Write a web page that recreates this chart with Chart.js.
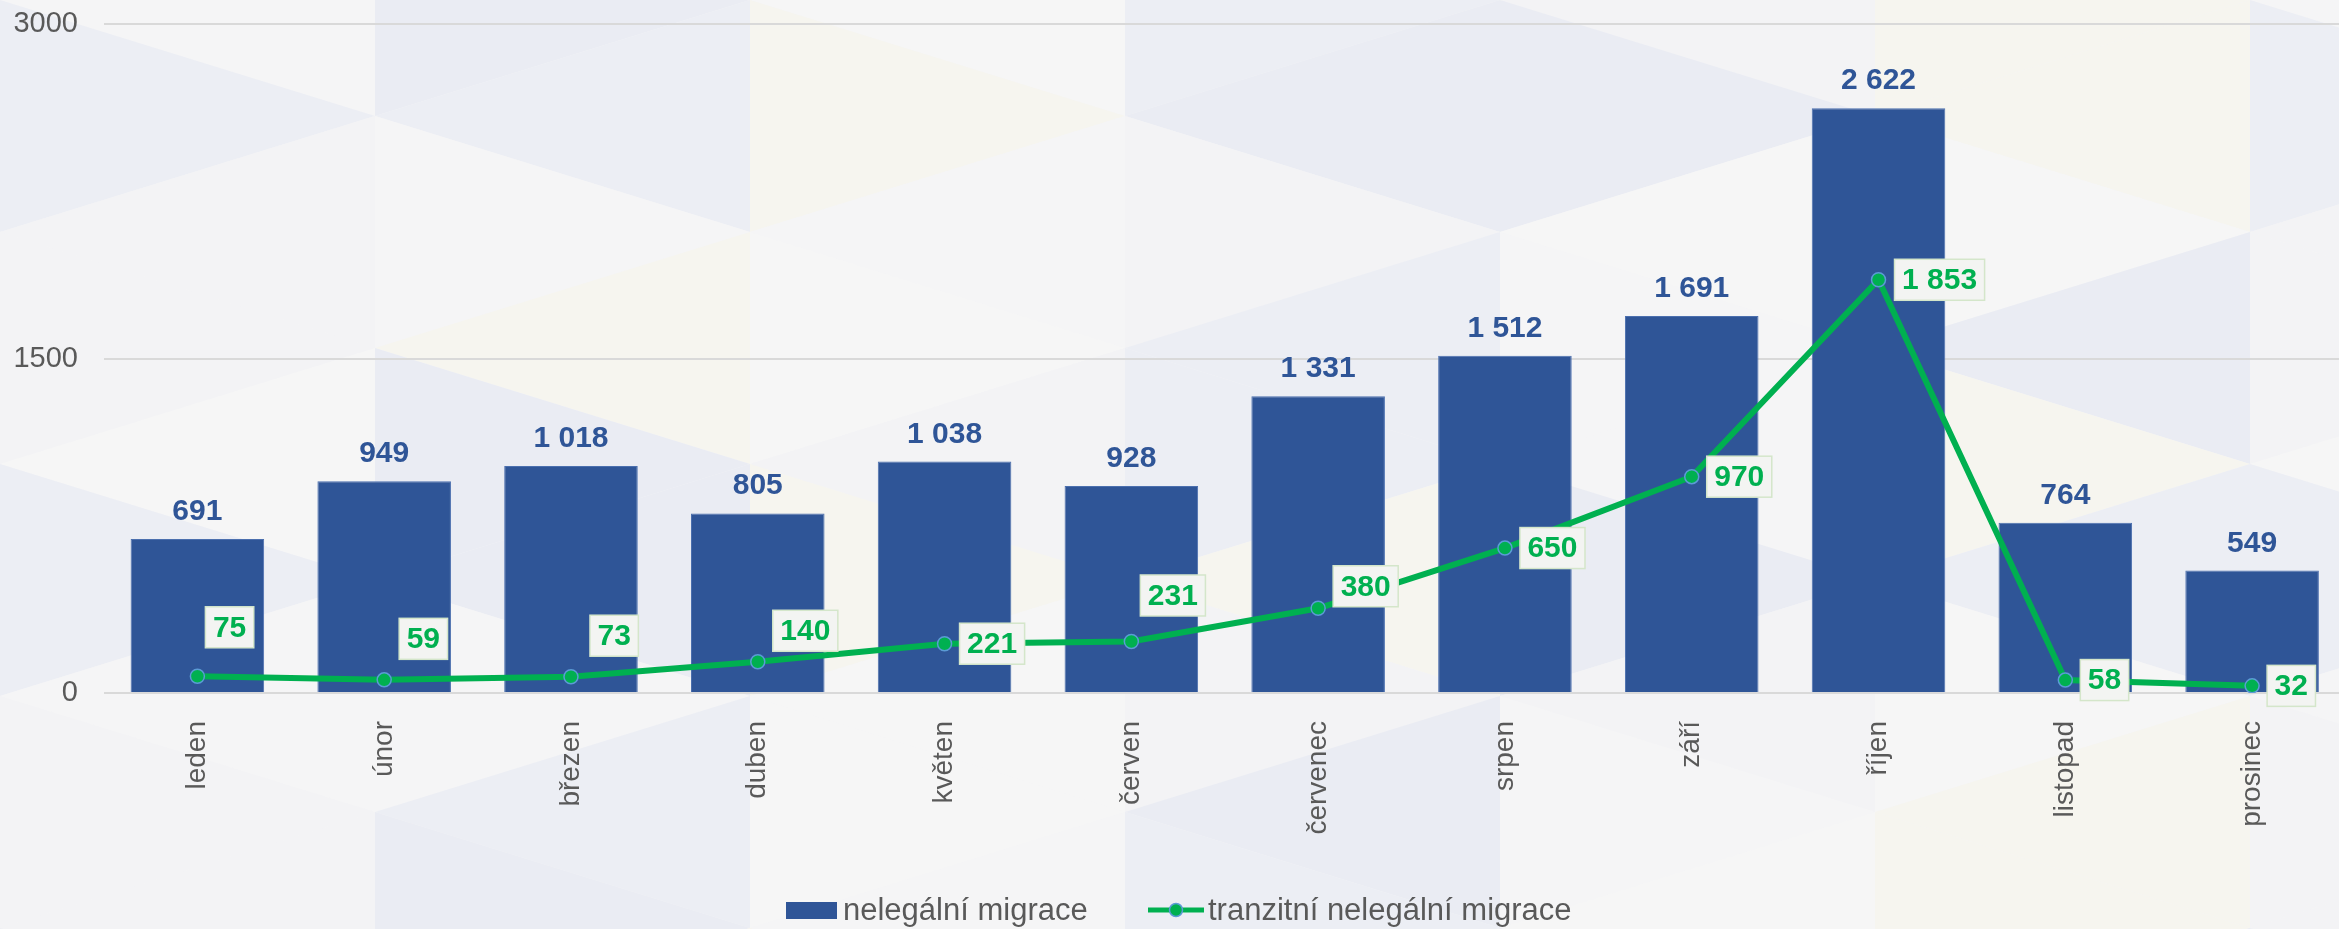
<!DOCTYPE html>
<html>
<head>
<meta charset="utf-8">
<script src="https://cdn.jsdelivr.net/npm/chart.js@4.4.0/dist/chart.umd.min.js"></script>
<style>
  html, body { margin: 0; padding: 0; overflow: hidden; background: #f4f4f6; }
  #wrap { width: 2354px; height: 929px; }
</style>
</head>
<body>
<div id="wrap"><canvas id="chart" width="2354" height="929"></canvas></div>
<script>
// Data
var months = ["leden", "únor", "březen", "duben", "květen", "červen", "červenec", "srpen", "září", "říjen", "listopad", "prosinec"];
var nelegalni = [691, 949, 1018, 805, 1038, 928, 1331, 1512, 1691, 2622, 764, 549];
var tranzitni = [75, 59, 73, 140, 221, 231, 380, 650, 970, 1853, 58, 32];
var yTicks = [0, 1500, 3000];
var seriesNames = ["nelegální migrace", "tranzitní nelegální migrace"];

// posun popisku u bodu cary (od bodu)
var labelNudgeX = [8, 15, 19, 15, 15, 9, 15, 15, 15, 16, 15, 15];
var labelNudgeY = [-49, -41, -41, -31, 0, -46, -22, 0, 0, 0, 0, 0];

var BLUE = "#2F5597";
var GREEN = "#00B050";
var GRAY = "#595959";

function fmt(n) {
  return String(n).replace(/\B(?=(\d{3})+(?!\d))/g, " ");
}

// pozadi s trojuhelniky
var background = {
  id: "background",
  beforeDraw: function (chart) {
    var ctx = chart.ctx;
    var colors = ["#eceef4", "#f5f5f6", "#f6f5ef", "#f3f3f5", "#eaecf3", "#f6f6f6"];
    ctx.save();
    ctx.fillStyle = "#f4f4f6";
    ctx.fillRect(0, 0, chart.width, chart.height);
    var cw = 375, rh = 232;
    for (var c = -1; c < 8; c++) {
      for (var r = -1; r < 6; r++) {
        var x0 = c * cw, x1 = (c + 1) * cw;
        var s = (c % 2 === 0) ? 0 : rh / 2;
        var yA = r * rh + s;
        ctx.fillStyle = colors[Math.abs(c * 7 + r * 3) % colors.length];
        ctx.beginPath();
        ctx.moveTo(x0, yA);
        ctx.lineTo(x1, yA + rh / 2);
        ctx.lineTo(x0, yA + rh);
        ctx.closePath();
        ctx.fill();
        ctx.fillStyle = colors[Math.abs(c * 5 + r * 2 + 3) % colors.length];
        ctx.beginPath();
        ctx.moveTo(x1, yA + rh / 2);
        ctx.lineTo(x0, yA + rh);
        ctx.lineTo(x1, yA + rh * 1.5);
        ctx.closePath();
        ctx.fill();
      }
    }
    ctx.restore();
  }
};

// popisky hodnot
var valueLabels = {
  id: "valueLabels",
  afterDatasetsDraw: function (chart) {
    var ctx = chart.ctx;
    ctx.save();
    ctx.font = "bold 30px 'Liberation Sans', Arial, sans-serif";
    ctx.fillStyle = BLUE;
    ctx.textAlign = "center";
    ctx.textBaseline = "alphabetic";
    chart.getDatasetMeta(0).data.forEach(function (bar, i) {
      ctx.fillText(fmt(nelegalni[i]), bar.x, bar.y - 19);
    });

    chart.getDatasetMeta(1).data.forEach(function (p, i) {
      var txt = fmt(tranzitni[i]);
      var w = ctx.measureText(txt).width + 15;
      var h = 41;
      var x = p.x + labelNudgeX[i];
      var y = p.y + labelNudgeY[i] - h / 2;
      ctx.fillStyle = "#f3f4f2";
      ctx.fillRect(x, y, w, h);
      ctx.strokeStyle = "#d4e6ca";
      ctx.lineWidth = 1.5;
      ctx.strokeRect(x, y, w, h);
      ctx.fillStyle = GREEN;
      ctx.textAlign = "center";
      ctx.textBaseline = "middle";
      ctx.fillText(txt, x + w / 2, y + h / 2 + 1);
    });
    ctx.restore();
  }
};

// legenda dole
var bottomLegend = {
  id: "bottomLegend",
  afterDraw: function (chart) {
    var ctx = chart.ctx;
    var ds = chart.data.datasets;
    var y = 910;
    ctx.save();
    ctx.font = "31px 'Liberation Sans', Arial, sans-serif";
    ctx.textBaseline = "middle";
    ctx.textAlign = "left";

    var x = 786;
    ctx.fillStyle = ds[0].backgroundColor;
    ctx.fillRect(x, y - 8, 51, 17);
    ctx.fillStyle = GRAY;
    ctx.fillText(seriesNames[0], x + 57, y + 1);

    x = 1148;
    ctx.strokeStyle = ds[1].borderColor;
    ctx.lineWidth = 5;
    ctx.beginPath();
    ctx.moveTo(x, y);
    ctx.lineTo(x + 56, y);
    ctx.stroke();
    ctx.beginPath();
    ctx.arc(x + 28, y, 6.5, 0, Math.PI * 2);
    ctx.fillStyle = GREEN;
    ctx.fill();
    ctx.lineWidth = 1.5;
    ctx.strokeStyle = "#5B9BD5";
    ctx.stroke();
    ctx.fillStyle = GRAY;
    ctx.fillText(seriesNames[1], x + 60, y + 1);
    ctx.restore();
  }
};

const ctxChart = document.getElementById("chart").getContext("2d");
var chart = new Chart(ctxChart, {
  data: {
    labels: months,
    datasets: [
      {
        type: "bar",
        label: seriesNames[0],
        data: nelegalni,
        backgroundColor: BLUE,
        borderColor: "#4b6fae",
        borderWidth: 1,
        categoryPercentage: 1,
        barPercentage: 0.715,
        order: 1
      },
      {
        type: "line",
        label: seriesNames[1],
        data: tranzitni,
        borderColor: GREEN,
        borderWidth: 6,
        tension: 0,
        pointRadius: 7,
        pointBackgroundColor: GREEN,
        pointBorderColor: "#5B9BD5",
        pointBorderWidth: 1.5,
        order: 0
      }
    ]
  },
  options: {
    responsive: false,
    animation: false,
    layout: { padding: { top: 24, left: 0, right: 0, bottom: 0 } },
    plugins: {
      legend: { display: false },
      tooltip: { enabled: false }
    },
    scales: {
      x: {
        grid: { display: false },
        border: { display: false },
        ticks: {
          autoSkip: false,
          minRotation: 90,
          maxRotation: 90,
          padding: 20,
          color: GRAY,
          font: { family: "'Liberation Sans', Arial, sans-serif", size: 28 }
        },
        afterFit: function (scale) { scale.height = 236; }
      },
      y: {
        min: 0,
        max: 3000,
        afterBuildTicks: function (scale) {
          scale.ticks = yTicks.map(function (v) { return { value: v }; });
        },
        grid: { color: "#d9d9d9", lineWidth: 2, drawTicks: false },
        border: { display: false },
        ticks: {
          padding: 26,
          color: GRAY,
          font: { family: "'Liberation Sans', Arial, sans-serif", size: 29 },
          callback: function (v) { return String(v); }
        },
        afterFit: function (scale) {
          scale.width = 104;
          scale.paddingTop = 0;
          scale.paddingBottom = 0;
        }
      }
    }
  },
  plugins: [background, valueLabels, bottomLegend]
});
</script>
</body>
</html>
